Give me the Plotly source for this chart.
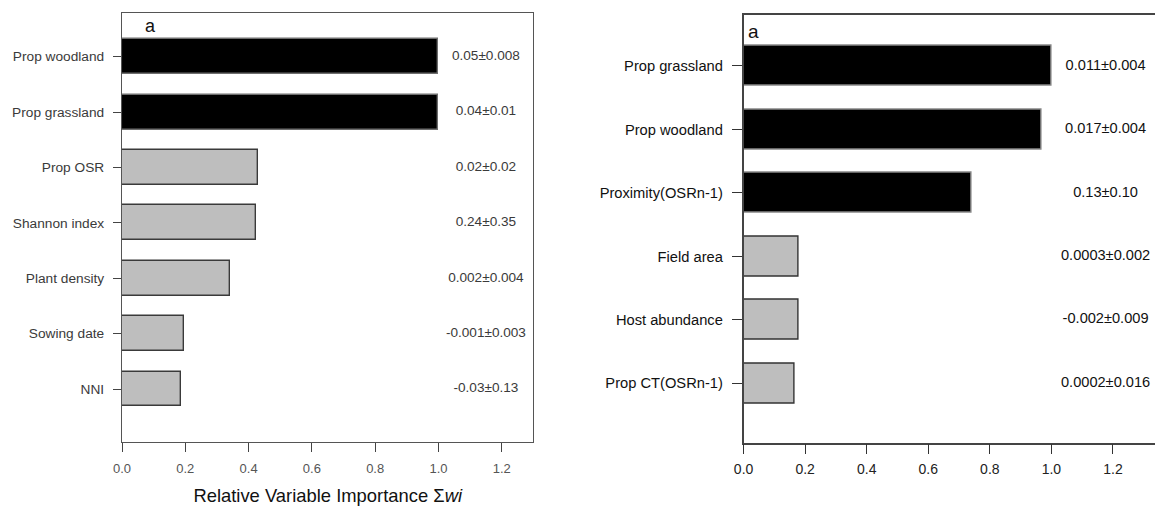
import plotly.graph_objects as go

# Panel 1: relative variable importance (sum of Akaike weights), top to bottom
left_vars = ["Prop woodland", "Prop grassland", "Prop OSR", "Shannon index",
             "Plant density", "Sowing date", "NNI"]
left_imp = [1.0, 1.0, 0.43, 0.425, 0.34, 0.197, 0.185]
left_est = ["0.05±0.008", "0.04±0.01", "0.02±0.02", "0.24±0.35",
            "0.002±0.004", "-0.001±0.003", "-0.03±0.13"]
left_sig = [True, True, False, False, False, False, False]

# Panel 2
right_vars = ["Prop grassland", "Prop woodland", "Proximity(OSRn-1)", "Field area",
              "Host abundance", "Prop CT(OSRn-1)"]
right_imp = [1.0, 0.967, 0.741, 0.179, 0.179, 0.167]
right_est = ["0.011±0.004", "0.017±0.004", "0.13±0.10", "0.0003±0.002",
             "-0.002±0.009", "0.0002±0.016"]
right_sig = [True, True, True, False, False, False]

x_ticks = [0.0, 0.2, 0.4, 0.6, 0.8, 1.0, 1.2]

W, H = 1155, 508
FONT = "Liberation Sans, Arial"


def positions(n):
    # first variable drawn at the top
    return [n - 1 - i for i in range(n)]


fig = go.Figure()

panels = [
    dict(vars=left_vars, imp=left_imp, est=left_est, sig=left_sig, xa="x", ya="y",
         lab_x=1.15, font=13.6, fcol="#3a3a3a", black_line="#6e6e6e", grey_line="#3a3a3a"),
    dict(vars=right_vars, imp=right_imp, est=right_est, sig=right_sig, xa="x2", ya="y2",
         lab_x=1.176, font=14.6, fcol="#111111", black_line="#888888", grey_line="#333333"),
]

for p in panels:
    pos = positions(len(p["vars"]))
    fills = ["#000000" if s else "#bebebe" for s in p["sig"]]
    lines = [p["black_line"] if s else p["grey_line"] for s in p["sig"]]
    fig.add_trace(go.Bar(
        x=p["imp"], y=pos, orientation="h", width=0.63,
        marker=dict(color=fills, line=dict(color=lines, width=1.4)),
        xaxis=p["xa"], yaxis=p["ya"], showlegend=False, hoverinfo="skip",
    ))
    fig.add_trace(go.Scatter(
        x=[p["lab_x"]] * len(pos), y=pos, mode="text", text=p["est"],
        textposition="middle center",
        textfont=dict(family=FONT, size=p["font"], color=p["fcol"]),
        xaxis=p["xa"], yaxis=p["ya"], showlegend=False, hoverinfo="skip",
    ))

# pixel geometry of the two plotting boxes
L = dict(x0=113, x1=528, y0=442.3, y1=13.0)
R = dict(x0=740, x1=1155, y0=442.7, y1=14.7)
L_PX = 319.2   # pixels per unit of importance, panel 1
R_PX = 310.5   # pixels per unit of importance, panel 2

fig.update_layout(
    width=W, height=H,
    margin=dict(l=0, r=0, t=0, b=0),
    paper_bgcolor="white", plot_bgcolor="white",
    bargap=0,
    xaxis=dict(
        domain=[L["x0"] / W, L["x1"] / W], range=[0, (L["x1"] - L["x0"]) / L_PX],
        tickvals=x_ticks, ticktext=[f"{v:.1f}" for v in x_ticks],
        ticks="outside", ticklen=9, tickcolor="#444", tickwidth=1,
        showline=True, linecolor="#555", linewidth=1.2, mirror=True,
        showgrid=False, zeroline=False, ticklabelstandoff=5,
        tickfont=dict(family=FONT, size=13, color="#555"),
        title=dict(text="Relative Variable Importance Σ<i>wi</i>", standoff=14,
                   font=dict(family=FONT, size=18.4, color="#111")),
        anchor="y",
    ),
    yaxis=dict(
        domain=[1 - L["y0"] / H, 1 - L["y1"] / H], range=[-0.962, 6.789],
        tickvals=positions(len(left_vars)), ticktext=left_vars,
        ticks="outside", ticklen=8, tickcolor="#444", tickwidth=1,
        showline=True, linecolor="#555", linewidth=1.2, mirror=True,
        showgrid=False, zeroline=False, ticklabelstandoff=6,
        tickfont=dict(family=FONT, size=13.7, color="#3a3a3a"),
        anchor="x",
    ),
    xaxis2=dict(
        domain=[R["x0"] / W, 1.0], range=[0, (R["x1"] - R["x0"]) / R_PX],
        tickvals=x_ticks, ticktext=[f"{v:.1f}" for v in x_ticks],
        ticks="outside", ticklen=10, tickcolor="#333", tickwidth=1.2,
        showline=True, linecolor="#444", linewidth=1.5, mirror=True,
        showgrid=False, zeroline=False, ticklabelstandoff=3,
        tickfont=dict(family=FONT, size=14, color="#222"),
        anchor="y2",
    ),
    yaxis2=dict(
        domain=[1 - R["y0"] / H, 1 - R["y1"] / H], range=[-0.936, 5.808],
        tickvals=positions(len(right_vars)), ticktext=right_vars,
        ticks="outside", ticklen=10, tickcolor="#333", tickwidth=1.2,
        showline=True, linecolor="#444", linewidth=1.5, mirror=False,
        showgrid=False, zeroline=False, ticklabelstandoff=6,
        tickfont=dict(family=FONT, size=14.7, color="#111"),
        anchor="x2",
    ),
    annotations=[
        dict(text="a", xref="paper", yref="paper", x=142 / W, y=1 - 26 / H,
             xanchor="center", yanchor="middle", showarrow=False,
             font=dict(family=FONT, size=18, color="#111")),
        dict(text="a", xref="paper", yref="paper", x=750 / W, y=1 - 31 / H,
             xanchor="center", yanchor="middle", showarrow=False,
             font=dict(family=FONT, size=19, color="#111")),
    ],
)

fig.write_html("out.html")
